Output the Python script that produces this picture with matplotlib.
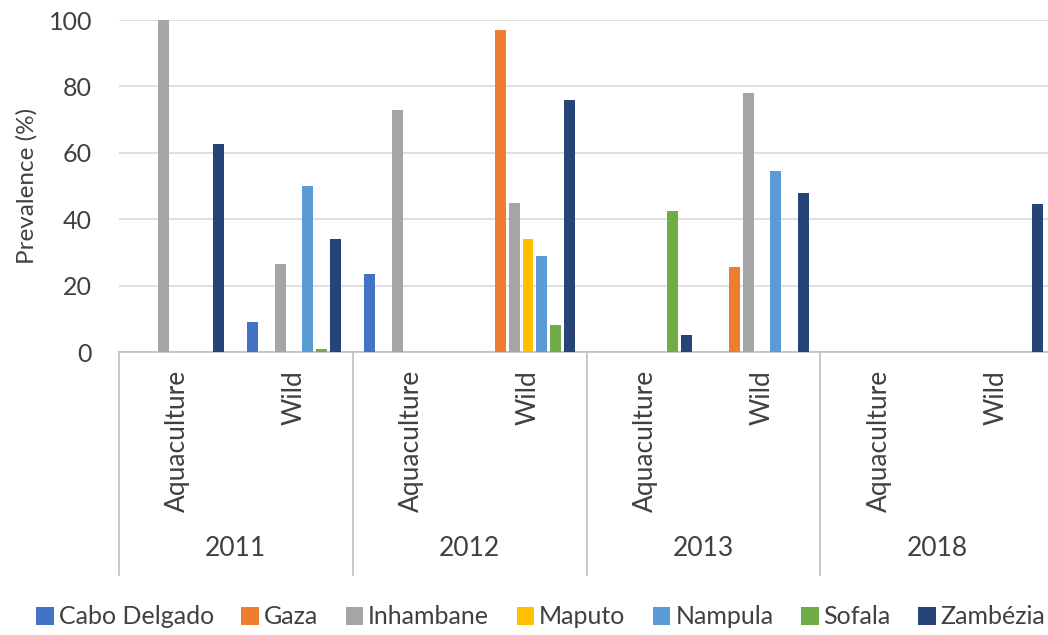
import numpy as np
import matplotlib
matplotlib.use("Agg")
from matplotlib import pyplot as plt

plt.rcParams['font.family'] = ['Lato', 'DejaVu Sans']

# Categories: year x origin
years = ['2011', '2012', '2013', '2018']
origins = ['Aquaculture', 'Wild']

provinces = ['Cabo Delgado', 'Gaza', 'Inhambane', 'Maputo', 'Nampula', 'Sofala', 'Zambézia']
colors = ['#4472C4', '#ED7D31', '#A5A5A5', '#FFC000', '#5B9BD5', '#70AD47', '#264478']

# prevalence (%) per province, one value per year/origin category
cabo_delgado = [0, 9, 23.5, 0, 0, 0, 0, 0]
gaza = [0, 0, 0, 97, 0, 25.5, 0, 0]
inhambane = [100, 26.5, 73, 45, 0, 78, 0, 0]
maputo = [0, 0, 0, 34, 0, 0, 0, 0]
nampula = [0, 50, 0, 29, 0, 54.5, 0, 0]
sofala = [0, 1, 0, 8, 42.5, 0, 0, 0]
zambezia = [62.5, 34, 0, 76, 5, 48, 0, 44.5]

series = [cabo_delgado, gaza, inhambane, maputo, nampula, sofala, zambezia]

W, H = 1048, 635
fig = plt.figure(figsize=(W / 100, H / 100), dpi=100)
left_px, right_px, top_px, bottom_px = 118.5, 1048, 20, 352
ax = fig.add_axes([left_px / W, 1 - bottom_px / H,
                   (right_px - left_px) / W, (bottom_px - top_px) / H])

n_cat = len(years) * len(origins)
x = np.arange(n_cat)
slot = 0.118
bar_w = 0.094
for i, (name, vals, c) in enumerate(zip(provinces, series, colors)):
    ax.bar(x + (i - 3) * slot, vals, width=bar_w, color=c, label=name, zorder=3)

txt = '#404040'
ax.set_ylim(0, 100)
ax.set_yticks([0, 20, 40, 60, 80, 100])
ax.set_xlim(-0.5, -0.5 + (right_px - left_px) / 117)
ax.grid(axis='y', color='#D9D9D9', linewidth=1.2, zorder=0)
for s in ['top', 'right', 'left']:
    ax.spines[s].set_visible(False)
ax.spines['bottom'].set_color('#BFBFBF')
ax.spines['bottom'].set_linewidth(1.2)
ax.tick_params(axis='y', length=0, labelsize=18, labelcolor=txt, pad=19)
ax.set_ylabel('Prevalence (%)', fontsize=17.5, color=txt, labelpad=8)

# inner level: origin labels, rotated
ax.set_xticks(x)
ax.set_xticklabels(origins * len(years), rotation=90, fontsize=19, color=txt)
ax.tick_params(axis='x', length=0, pad=13)

# outer level: year labels and separators below the axis
trans = ax.get_xaxis_transform()
depth = (575 - bottom_px) / (bottom_px - top_px)
for k in range(len(years) + 1):
    xb = -0.5 + 2 * k
    ax.plot([xb, xb], [0, -depth], transform=trans, color='#BFBFBF',
            linewidth=1.2, clip_on=False)
for k, yr in enumerate(years):
    ax.text(0.5 + 2 * k, -(548 - bottom_px) / (bottom_px - top_px), yr,
            transform=trans, ha='center', va='center', fontsize=19, color=txt)

fig.legend(loc='center', bbox_to_anchor=(0.516, 1 - 617 / H), ncol=7, frameon=False,
           fontsize=18, handlelength=0.7, handleheight=0.7, handletextpad=0.2,
           columnspacing=1.1, labelcolor=txt)

fig.savefig('out.png', dpi=100)
